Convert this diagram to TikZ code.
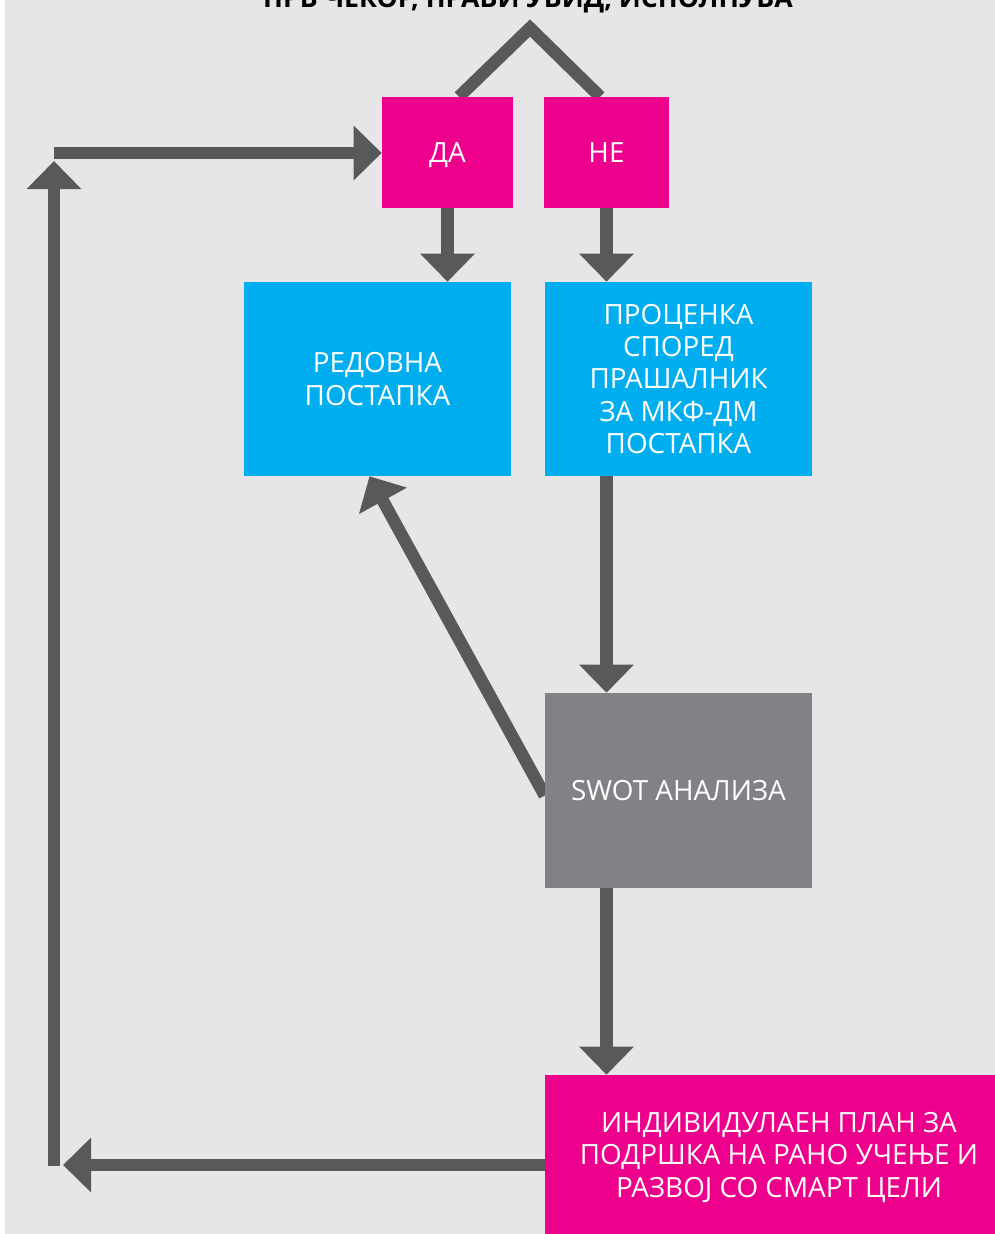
\documentclass[tikz,border=0pt]{standalone}
\usepackage{fontspec}
\setmainfont{Open Sans}
\usepackage{tikz}
\usetikzlibrary{arrows.meta}
\usetikzlibrary{backgrounds}
\usetikzlibrary{positioning}

\definecolor{bgray}{HTML}{E6E6E6}
\definecolor{pinkbox}{HTML}{EC008C}
\definecolor{bluebox}{HTML}{00AEEF}
\definecolor{swotgray}{HTML}{808285}
\definecolor{arrgray}{HTML}{58595B}

\begin{document}
\begin{tikzpicture}
      [x=0.25mm, y=-0.25mm,
       every node/.style={align=center, inner sep=0pt, text=white,
         font=\fontsize{19.8}{23}\selectfont},
       pinknode/.style={fill=pinkbox, minimum height=27.75mm, text depth=0pt},
       bluenode/.style={fill=bluebox, minimum width=66.75mm, minimum height=48.5mm},
       line/.style={draw=arrgray, line width=3.1mm},
       arr/.style={line, -{Triangle[width=13.25mm, length=7mm]}}]
      \useasboundingbox (0, 0) rectangle (995, 1234);
      \clip (0, 0) rectangle (995, 1234);

      \node (title) [anchor=base, text=black, font=\fontsize{19}{23}\selectfont\bfseries]
        at (528, 8) {ПРВ ЧЕКОР, ПРАВИ УВИД, ИСПОЛНУВА};

      \node (da) [pinknode, minimum width=32.75mm] at (447.5, 152.5) {ДА};
      \node (ne) [pinknode, minimum width=31.25mm] at (606.5, 152.5) {НЕ};
      \node (redovna) [bluenode] at (377.5, 379) {РЕДОВНА\\ПОСТАПКА};
      \node (procenka) [bluenode] at (678.5, 379)
        {ПРОЦЕНКА\\СПОРЕД\\ПРАШАЛНИК\\ЗА МКФ-ДМ\\ПОСТАПКА};
      \node (swot) [fill=swotgray, minimum width=66.75mm, minimum height=48.75mm]
        at (678.5, 790.5) {SWOT АНАЛИЗА};
      \node (plan) [fill=pinkbox, minimum width=117mm, minimum height=41.25mm]
        at (779, 1157.5) {ИНДИВИДУЛАЕН ПЛАН ЗА\\ПОДРШКА НА РАНО УЧЕЊЕ И\\РАЗВОЈ СО СМАРТ ЦЕЛИ};

      \coordinate (apex) at (530, 28);
      \coordinate (lowtip) at (63, 1165);
      \coordinate (lowc) at (54, 1166);
      \coordinate (uptip) at (54, 161);
      \coordinate (topc) at (54, 153);

      \begin{pgfonlayer}{background}
        \fill[white] (0, 0) rectangle (995, 1234);
        \fill[bgray] (5, 0) rectangle (995, 1234);

        \draw [line] ([xshift=2.875mm]da.north) -- (apex) -- ([xshift=-1.6mm]ne.north);
        \draw [arr] (da.south) -- (da.south |- redovna.north);
        \draw [arr] (ne.south) -- (ne.south |- procenka.north);
        \draw [arr] (ne.south |- procenka.south) -- (ne.south |- swot.north);
        \draw [arr] (ne.south |- swot.south) -- (ne.south |- plan.north);
        \draw [arr] ([yshift=-1.25mm]swot.west) -- ([xshift=-2mm]redovna.south);
        \draw [arr] (plan.west |- lowtip) -- (lowtip);
        \draw [arr] (lowc) -- (uptip);
        \draw [arr] (topc) -- (da.west |- topc);
      \end{pgfonlayer}
    \end{tikzpicture}
\end{document}
